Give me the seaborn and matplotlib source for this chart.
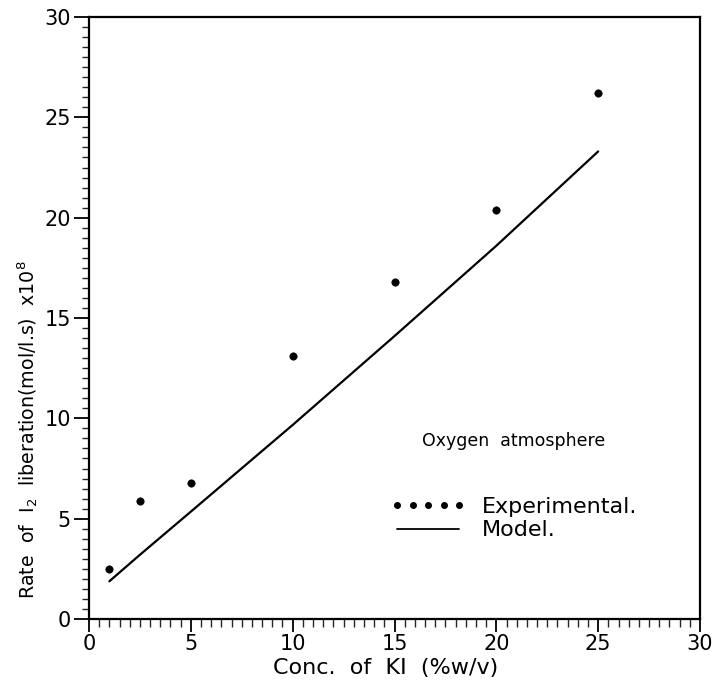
import numpy as np
import pandas as pd
import matplotlib
matplotlib.use("Agg")
import matplotlib.pyplot as plt
import seaborn as sns
from matplotlib.lines import Line2D
from matplotlib.ticker import MultipleLocator

# Data
exp_conc = [1, 2.5, 5, 10, 15, 20, 25]
exp_rate = [2.5, 5.9, 6.8, 13.1, 16.8, 20.4, 26.2]
model_conc = [1, 2.5, 5, 10, 15, 20, 25]
model_rate = [1.88, 3.2, 5.35, 9.67, 14.1, 18.6, 23.3]
x_ticks = [0, 5, 10, 15, 20, 25, 30]
y_ticks = [0, 5, 10, 15, 20, 25, 30]

sns.set_theme(style="ticks")
plt.rcParams['font.family'] = ['DejaVu Sans']
plt.rcParams['mathtext.fontset'] = 'dejavusans'
plt.rcParams['text.color'] = 'black'
plt.rcParams['axes.labelcolor'] = 'black'
plt.rcParams['legend.labelcolor'] = 'black'

fig = plt.figure(figsize=(7.16, 6.85), dpi=100)
ax = fig.add_axes([89/716, 1 - 619/685, (700-89)/716, (619-17)/685])

exp_df = pd.DataFrame({"conc": exp_conc, "rate": exp_rate})
model_df = pd.DataFrame({"conc": model_conc, "rate": model_rate})

sns.lineplot(data=model_df, x="conc", y="rate", ax=ax, color="black",
             linewidth=1.6, estimator=None, sort=True)
sns.scatterplot(data=exp_df, x="conc", y="rate", ax=ax, color="black",
                marker="o", s=28, edgecolor="black", linewidth=0.5, zorder=3)

ax.set_xlim(0, 30)
ax.set_ylim(0, 30)
ax.set_xticks(x_ticks)
ax.set_yticks(y_ticks)
ax.xaxis.set_minor_locator(MultipleLocator(0.5))
ax.yaxis.set_minor_locator(MultipleLocator(0.5))
ax.tick_params(axis="both", which="major", labelsize=15, width=1.3,
               color="black", labelcolor="black")
ax.tick_params(axis="x", which="major", direction="out", length=9, pad=2)
ax.tick_params(axis="x", which="minor", direction="out", length=6, width=1.0)
ax.tick_params(axis="y", which="major", direction="out", length=11, pad=2)
ax.tick_params(axis="y", which="minor", direction="out", length=5, width=1.0)

for s in ax.spines.values():
    s.set_visible(True)
    s.set_color("black")
    s.set_linewidth(1.6)

ax.set_xlabel("Conc.  of  KI  (%w/v)", fontsize=16, color="black")
ax.xaxis.set_label_coords(0.485, -0.064)
ax.set_ylabel(r"Rate  of  I$_2$  liberation(mol/l.s)  x10$^8$", fontsize=13.7,
              color="black")
ax.yaxis.set_label_coords(-0.080, 0.314)

ax.text(0.545, 0.2957, "Oxygen  atmosphere", transform=ax.transAxes,
        fontsize=12.5, va="center", ha="left", color="black")

handles = [
    Line2D([], [], linestyle="none", marker="o", markersize=4, color="black"),
    Line2D([], [], linestyle="-", linewidth=1.3, color="black"),
]
leg = ax.legend(handles, ["Experimental.", "Model."], loc="upper left",
                bbox_to_anchor=(0.4935, 0.2027), frameon=False, fontsize=16,
                numpoints=5, handlelength=3.4, handletextpad=0.7,
                labelspacing=0.15, borderpad=0, borderaxespad=0)
for t in leg.get_texts():
    t.set_color("black")

fig.savefig("out.png", dpi=100)
